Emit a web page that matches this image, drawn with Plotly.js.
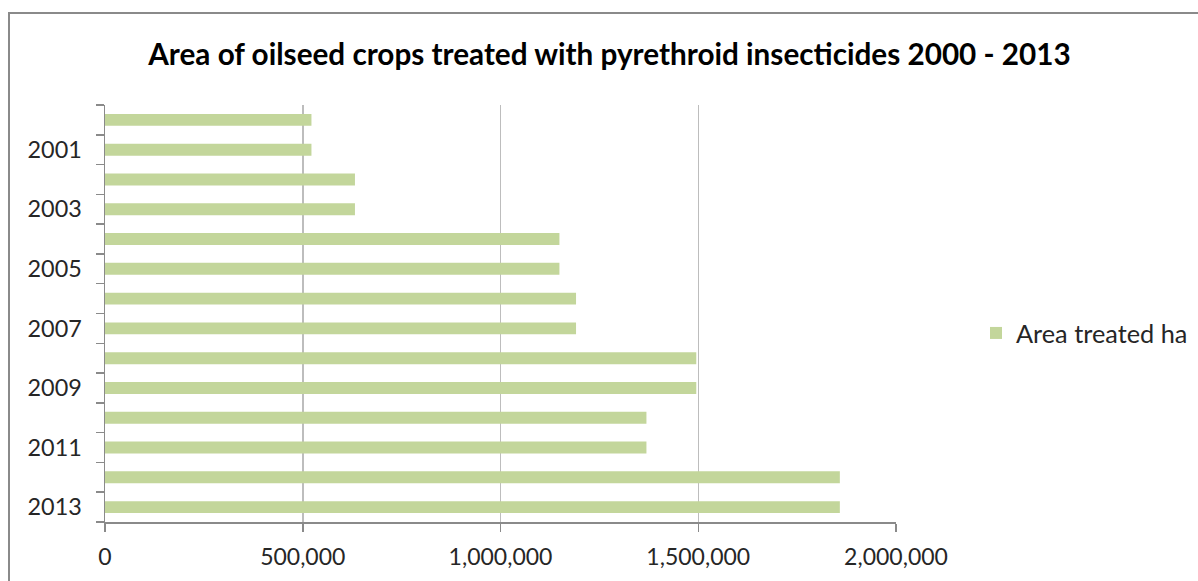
<!DOCTYPE html>
<html>
<head>
<meta charset="utf-8">
<script src="https://cdn.plot.ly/plotly-3.0.1.min.js"></script>
<style>
  html, body { margin: 0; padding: 0; background: #fff; }
  #wrap { position: relative; width: 1198px; height: 581px; overflow: hidden; }
  #chart { position: absolute; left: 0; top: 0; width: 1198px; height: 581px; }
  #frame { position: absolute; left: 8px; top: 12px; width: 1300px; height: 700px;
           border-top: 2px solid #8a8a8a; border-left: 2px solid #8a8a8a; pointer-events: none; }
</style>
</head>
<body>
<div id="wrap">
  <div id="chart"></div>
  <div id="frame"></div>
</div>
<script>
const years = ['2000','2001','2002','2003','2004','2005','2006','2007','2008','2009','2010','2011','2012','2013'];
const areaTreated = [522000, 522000, 632000, 632000, 1149000, 1149000, 1191000, 1191000, 1495000, 1495000, 1369000, 1369000, 1858000, 1858000];
const yTickLabels = ['', '2001', '', '2003', '', '2005', '', '2007', '', '2009', '', '2011', '', '2013'];
const xTickVals = [0, 500000, 1000000, 1500000, 2000000];
const xTickLabels = ['0', '500,000', '1,000,000', '1,500,000', '2,000,000'];
const seriesName = 'Area treated ha';
const chartTitle = 'Area of oilseed crops treated with pyrethroid insecticides 2000 - 2013';

const FONT = 'Lato, "Open Sans", "DejaVu Sans", sans-serif';

const trace = {
  type: 'bar',
  orientation: 'h',
  x: areaTreated,
  y: years,
  name: seriesName,
  showlegend: true,
  marker: { color: '#c3d69b' },
  hoverinfo: 'x+y'
};

const layout = {
  width: 1198,
  height: 581,
  margin: { l: 105, r: 302, t: 105, b: 59, autoexpand: false },
  paper_bgcolor: '#ffffff',
  plot_bgcolor: '#ffffff',
  font: { family: FONT, color: '#262626', size: 23 },
  title: {
    text: chartTitle,
    font: { family: FONT, size: 29.7, color: '#000000', weight: 'bold' },
    x: 609.5 / 1198, xref: 'container', xanchor: 'center',
    y: 1 - 55 / 581, yref: 'container', yanchor: 'middle'
  },
  bargap: 0.6,
  xaxis: {
    range: [0, 2000000],
    tickmode: 'array',
    tickvals: xTickVals,
    ticktext: xTickLabels,
    showgrid: true,
    gridcolor: '#bdbdbd',
    gridwidth: 1.5,
    zeroline: false,
    showline: true,
    linecolor: '#8a8a8a',
    linewidth: 1.5,
    ticks: 'outside',
    ticklen: 8,
    tickcolor: '#8a8a8a',
    tickwidth: 1.5,
    ticklabelstandoff: 6,
    tickfont: { family: FONT, size: 23, color: '#262626' },
    fixedrange: true
  },
  yaxis: {
    type: 'category',
    autorange: 'reversed',
    tickmode: 'array',
    tickvals: years,
    ticktext: yTickLabels,
    tickson: 'boundaries',
    showgrid: false,
    zeroline: false,
    showline: true,
    linecolor: '#8a8a8a',
    linewidth: 1.5,
    ticks: 'outside',
    ticklen: 8,
    tickcolor: '#8a8a8a',
    tickwidth: 1.5,
    ticklabelstandoff: 17,
    tickfont: { family: FONT, size: 23.4, color: '#262626' },
    fixedrange: true
  },
  legend: {
    x: (976 - 105) / 791,
    xanchor: 'left',
    y: (522 - 333) / 417,
    yanchor: 'middle',
    font: { family: FONT, size: 25.3, color: '#262626' },
    bgcolor: 'rgba(0,0,0,0)'
  }
};

Plotly.newPlot('chart', [trace], layout, { displayModeBar: false, staticPlot: true });
</script>
</body>
</html>
